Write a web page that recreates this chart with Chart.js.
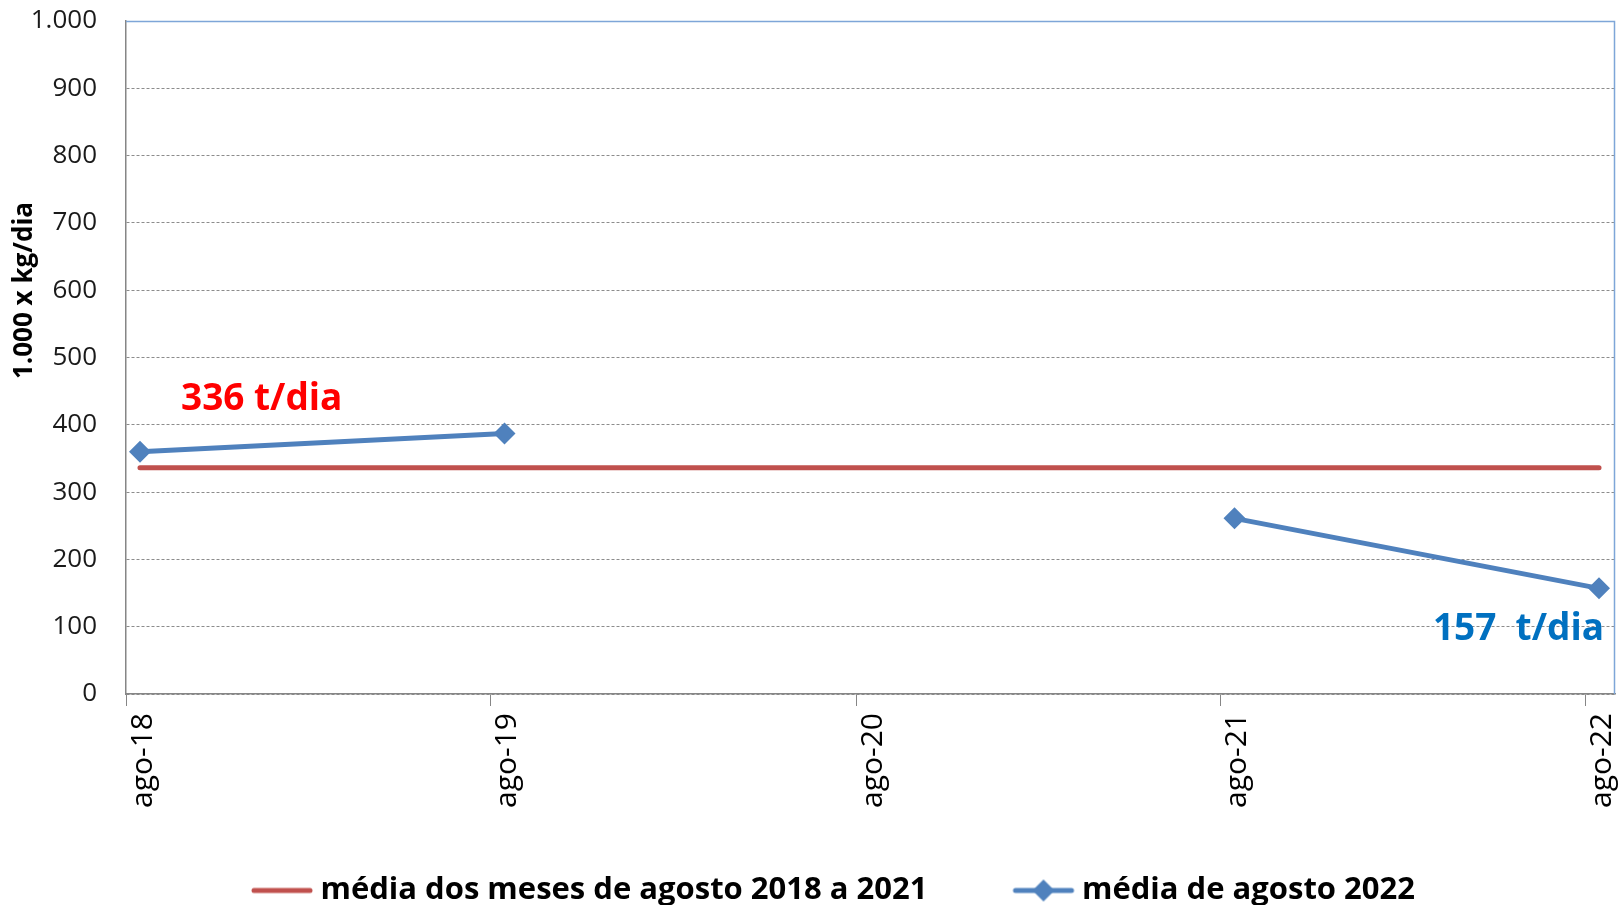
<!DOCTYPE html>
<html lang="pt">
  <head>
    <meta charset="UTF-8" />
    <title>Média de agosto</title>
    <script src="https://cdn.jsdelivr.net/npm/chart.js@4/dist/chart.umd.min.js"></script>
    <style>
      body { margin: 0; background: #fff; }
      #wrap { width: 1621px; height: 905px; position: relative; }
    </style>
  </head>
  <body>
    <div id="wrap"><canvas id="chart"></canvas></div>
    <script>
      // periods on the x axis (ticks sit on the 1st of August)
      var periods = ['ago-18', 'ago-19', 'ago-20', 'ago-21', 'ago-22'];
      var tickDates = ['2018-08-01', '2019-08-01', '2020-08-01', '2021-08-01', '2022-08-01'];
      // points are plotted mid-month
      var pointDates = ['2018-08-15', '2019-08-15', '2020-08-15', '2021-08-15', '2022-08-15'];
      var axisEnd = '2022-08-31';

      var mediaAnterior = [336, 336, 336, 336, 336];
      var media2022 = [360, 387, null, 261, 157];

      var seriesNames = ['média dos meses de agosto 2018 a 2021', 'média de agosto 2022'];
      var yTitle = '1.000 x kg/dia';

      var RED = '#C0504D';
      var BLUE = '#4F81BD';
      var FONT = "'Open Sans'";
      var LEGEND_BOX = 90;

      function dayOf(s) {
        return (Date.parse(s) - Date.parse(tickDates[0])) / 86400000;
      }

      function fmt(v) {
        var s = String(Math.round(v));
        return s.replace(/\B(?=(\d{3})+(?!\d))/g, '.');
      }

      // line (+ marker) icon for the legend, pushed to the right end of the box
      function legendIcon(color, diamond) {
        var c = document.createElement('canvas');
        c.width = LEGEND_BOX + 20;
        c.height = 28;
        var g = c.getContext('2d');
        var x1 = c.width - 5, x0 = x1 - 56, mid = (x0 + x1) / 2;
        g.strokeStyle = color;
        g.lineWidth = 5;
        g.lineCap = 'round';
        g.beginPath();
        g.moveTo(x0, 14);
        g.lineTo(x1, 14);
        g.stroke();
        if (diamond) {
          g.fillStyle = color;
          g.beginPath();
          g.moveTo(mid, 3);
          g.lineTo(mid + 11, 14);
          g.lineTo(mid, 25);
          g.lineTo(mid - 11, 14);
          g.closePath();
          g.fill();
        }
        return c;
      }
      var icons = [legendIcon(RED, false), legendIcon(BLUE, true)];

      var extras = {
        id: 'extras',
        afterDraw: function (chart) {
          var ctx = chart.ctx;
          var a = chart.chartArea;
          var x = chart.scales.x;
          var y = chart.scales.y;
          ctx.save();

          // plot frame, top and right
          ctx.strokeStyle = '#7EA6D8';
          ctx.lineWidth = 1.5;
          ctx.setLineDash([]);
          ctx.beginPath();
          ctx.moveTo(a.left, a.top + 0.5);
          ctx.lineTo(a.right - 0.5, a.top + 0.5);
          ctx.lineTo(a.right - 0.5, a.bottom);
          ctx.stroke();

          // y axis title
          ctx.fillStyle = '#000';
          ctx.font = 'bold 26px ' + FONT;
          ctx.textAlign = 'center';
          ctx.textBaseline = 'middle';
          ctx.translate(25, y.getPixelForValue(500) - 67);
          ctx.rotate(-Math.PI / 2);
          ctx.fillText(yTitle, 0, 0);
          ctx.setTransform(1, 0, 0, 1, 0, 0);

          // value labels
          ctx.font = 'bold 37px ' + FONT;
          ctx.textBaseline = 'middle';
          ctx.fillStyle = '#FF0000';
          ctx.textAlign = 'left';
          ctx.fillText(mediaAnterior[0] + ' t/dia',
            x.getPixelForValue(dayOf(pointDates[0])) + 41,
            y.getPixelForValue(mediaAnterior[0]) - 68);

          var last = media2022.length - 1;
          ctx.fillStyle = '#0070C0';
          ctx.textAlign = 'right';
          ctx.fillText(media2022[last] + '  t/dia',
            x.getPixelForValue(dayOf(pointDates[last])) + 5,
            y.getPixelForValue(media2022[last]) + 41);
          ctx.restore();
        }
      };

      new Chart(document.getElementById('chart'), {
        type: 'line',
        data: {
          datasets: [
            {
              label: seriesNames[0],
              data: pointDates.map(function (d, i) { return { x: dayOf(d), y: mediaAnterior[i] }; }),
              borderColor: RED,
              backgroundColor: RED,
              borderWidth: 5,
              pointRadius: 0,
              borderCapStyle: 'round'
            },
            {
              label: seriesNames[1],
              data: pointDates.map(function (d, i) { return { x: dayOf(d), y: media2022[i] }; }),
              borderColor: BLUE,
              backgroundColor: BLUE,
              borderWidth: 5,
              pointStyle: 'rectRot',
              pointRadius: 11,
              pointBorderWidth: 0,
              spanGaps: false
            }
          ]
        },
        options: {
          responsive: true,
          maintainAspectRatio: false,
          animation: false,
          layout: { autoPadding: false, padding: { left: 15, right: 6, top: 21, bottom: -11 } },
          scales: {
            x: {
              type: 'linear',
              min: 0,
              max: dayOf(axisEnd),
              afterBuildTicks: function (scale) {
                scale.ticks = tickDates.map(function (d) { return { value: dayOf(d) }; });
              },
              afterFit: function (scale) {
                scale.height = 132;
                scale.paddingLeft = 0;
                scale.paddingRight = 0;
              },
              grid: { drawOnChartArea: false, drawTicks: true, tickLength: 12, color: '#868686' },
              border: { color: '#868686', width: 1.5 },
              ticks: {
                autoSkip: false,
                maxRotation: 90,
                minRotation: 90,
                padding: 7,
                labelOffset: 17,
                color: '#000',
                font: { family: FONT, size: 30 },
                callback: function (v) {
                  var i = tickDates.map(dayOf).indexOf(v);
                  return i >= 0 ? periods[i] : '';
                }
              }
            },
            y: {
              min: 0,
              max: 1000,
              afterFit: function (scale) {
                scale.width = 111;
                scale.paddingTop = 0;
                scale.paddingBottom = 0;
              },
              grid: { color: '#8C8C8C', drawTicks: false, lineWidth: 1 },
              border: { color: '#868686', width: 1.5, dash: [3, 2] },
              ticks: {
                stepSize: 100,
                padding: 29,
                color: '#1a1a1a',
                font: { family: FONT, size: 26 },
                callback: function (v) { return fmt(v); }
              }
            }
          },
          plugins: {
            tooltip: { enabled: false },
            legend: {
              position: 'bottom',
              labels: {
                usePointStyle: true,
                pointStyleWidth: LEGEND_BOX,
                padding: 49,
                color: '#000',
                font: { family: FONT, size: 31, weight: 'bold' },
                generateLabels: function (chart) {
                  var items = Chart.defaults.plugins.legend.labels.generateLabels(chart);
                  items.forEach(function (it, i) { it.pointStyle = icons[i]; });
                  return items;
                }
              }
            }
          }
        },
        plugins: [extras]
      });
    </script>
  </body>
</html>
